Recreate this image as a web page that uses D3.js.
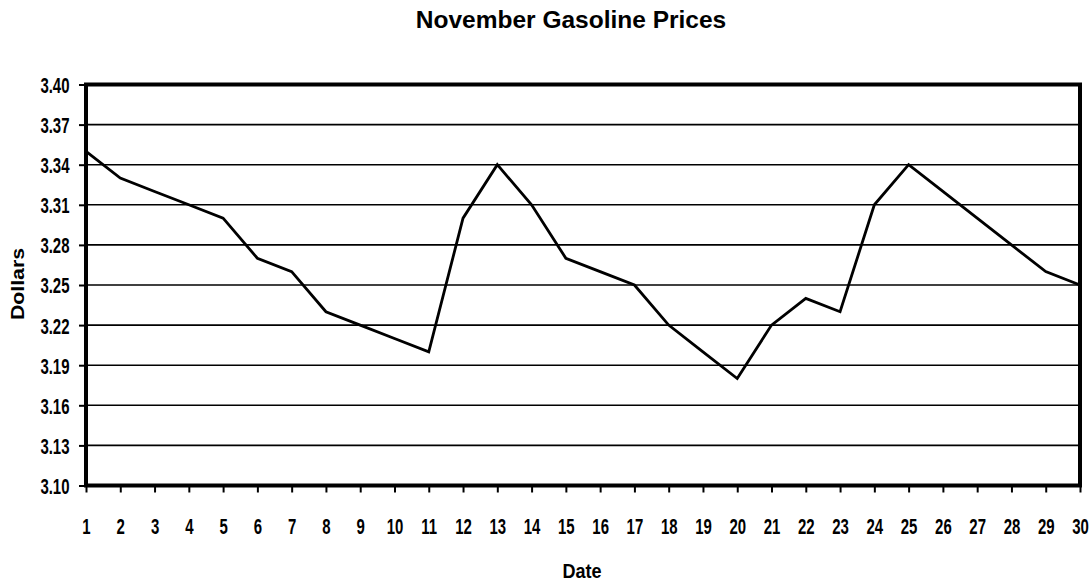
<!DOCTYPE html>
<html><head><meta charset="utf-8">
<script src="https://cdn.jsdelivr.net/npm/d3@7"></script>
<style>
body{margin:0;background:#fff;}
text{font-family:"Liberation Sans",Arial,sans-serif;font-weight:bold;fill:#000;}
</style></head>
<body><svg id="c" width="1092" height="581"></svg>
<script>
const days = d3.range(1, 31);
const prices = [3.35,3.33,3.32,3.31,3.30,3.27,3.26,3.23,3.22,3.21,3.20,3.30,3.34,3.31,3.27,3.26,3.25,3.22,3.20,3.18,3.22,3.24,3.23,3.31,3.34,3.32,3.30,3.28,3.26,3.25];
const yTicks = [3.10,3.13,3.16,3.19,3.22,3.25,3.28,3.31,3.34,3.37,3.40];
const titleText = "November Gasoline Prices";
const xTitle = "Date";
const yTitle = "Dollars";

const svg = d3.select("#c");
const L = 86, R = 1080, T = 84.5, B = 485.5;
const x = d3.scaleLinear().domain([1, 30]).range([L, R]);
const y = d3.scaleLinear().domain([3.10, 3.40]).range([B, T]);

// gridlines
svg.append("g").selectAll("line").data(yTicks).join("line")
  .attr("x1", L).attr("x2", R).attr("y1", d => y(d)).attr("y2", d => y(d))
  .attr("stroke", "#000").attr("stroke-width", 1.6);

// y axis
const ya = svg.append("g").attr("transform", `translate(${L},0)`)
  .call(d3.axisLeft(y).tickValues(yTicks).tickFormat(d3.format(".2f")).tickSize(7));
ya.select(".domain").remove();
ya.selectAll(".tick line").attr("stroke", "#000").attr("stroke-width", 2);
ya.selectAll(".tick text").style("font-size", "22px")
  .attr("x", 0).attr("dy", "0.36em")
  .attr("transform", "translate(-16.5,0) scale(0.68,1)");

// x axis
const xa = svg.append("g").attr("transform", `translate(0,${B})`)
  .call(d3.axisBottom(x).tickValues(days).tickFormat(d3.format("d")).tickSize(7));
xa.select(".domain").remove();
xa.selectAll(".tick line").attr("stroke", "#000").attr("stroke-width", 2);
xa.selectAll(".tick text").style("font-size", "22px")
  .attr("y", 0).attr("dy", 0)
  .attr("transform", "translate(0,48.5) scale(0.68,1)");

// frame
svg.append("rect").attr("x", L).attr("y", T).attr("width", R - L).attr("height", B - T)
  .attr("fill", "none").attr("stroke", "#000").attr("stroke-width", 4);

// line
svg.append("path").datum(prices)
  .attr("fill", "none").attr("stroke", "#000").attr("stroke-width", 2.8)
  .attr("stroke-linejoin", "miter")
  .attr("d", d3.line().x((d, i) => x(days[i])).y(d => y(d)));

svg.append("text").attr("x", 571).attr("y", 28)
  .attr("text-anchor", "middle").style("font-size", "24.5px").text(titleText);
svg.append("text").attr("transform", "translate(582,578) scale(0.86,1)")
  .attr("text-anchor", "middle").style("font-size", "21px").text(xTitle);
svg.append("text").attr("transform", "translate(24,284) rotate(-90) scale(1.12,1)")
  .attr("text-anchor", "middle").style("font-size", "19px").text(yTitle);
</script></body></html>
